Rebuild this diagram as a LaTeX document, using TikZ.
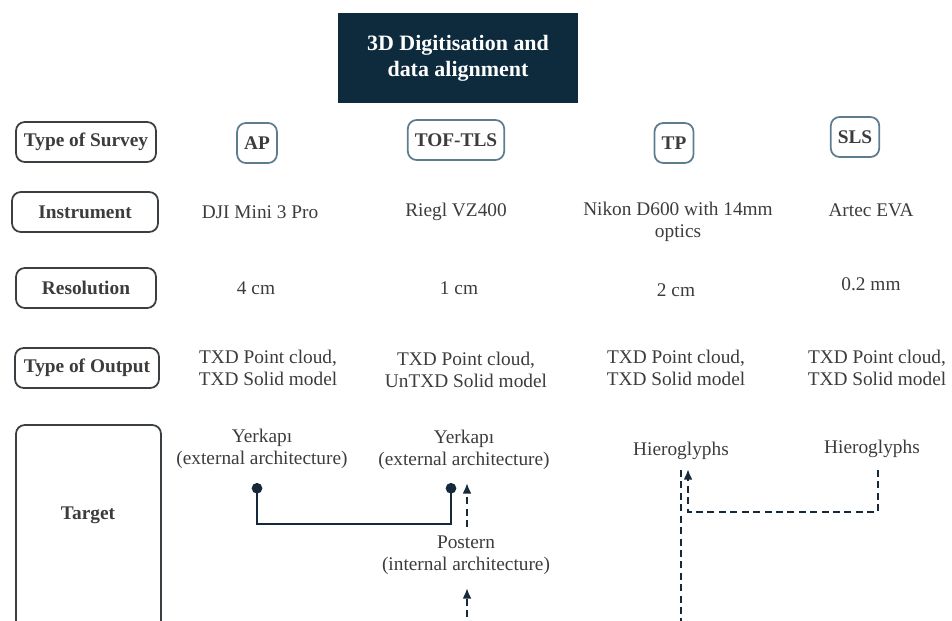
\documentclass[tikz,border=0pt]{standalone}
\usepackage{fontspec}
\setmainfont{Liberation Serif}
\usetikzlibrary{positioning,arrows.meta}

\definecolor{headnavy}{HTML}{0E2B3E}
\definecolor{boxgray}{HTML}{3A3F44}
\definecolor{surveyblue}{HTML}{5E7C90}
\definecolor{inkgray}{HTML}{3C3C3C}
\definecolor{linknavy}{HTML}{15293A}

\tikzset{
  rowlabel/.style={draw=boxgray, line width=1pt, rounded corners=5pt, font=\fontsize{11}{13}\selectfont\bfseries,
    text=inkgray, minimum width=2.8cm, minimum height=0.8cm},
  survey/.style={draw=surveyblue, line width=1pt, rounded corners=5pt, font=\fontsize{11}{13}\selectfont\bfseries,
    text=inkgray, minimum width=0.78cm, minimum height=0.8cm, inner sep=4pt},
  cell/.style={font=\fontsize{11}{12.5}\selectfont, text=inkgray, align=center, inner sep=1pt},
  link/.style={draw=linknavy, line width=1.3pt},
  flow/.style={draw=linknavy, line width=1.2pt, dash pattern=on 4pt off 2.5pt, -{Latex[length=6pt,width=5pt]}},
}

\begin{document}
\begin{tikzpicture}[x=0.02cm, y=-0.02cm]
  \useasboundingbox (0,0) rectangle (952,621);
  \clip (0,0) rectangle (952,621);

  % title
  \node[fill=headnavy, minimum width=4.8cm, minimum height=1.82cm, text=white, align=center,
        font=\fontsize{12.5}{15}\selectfont\bfseries] (title) at (458,58) {3D Digitisation and\\data alignment};

  % row labels
  \node[rowlabel] (survey) at (86,142) {Type of Survey};
  \node[rowlabel, minimum width=2.92cm] (instr) at (85,212) {Instrument};
  \node[rowlabel] (resol) at (86,288) {Resolution};
  \node[rowlabel, minimum width=2.88cm] (output) at (87,368) {Type of Output};
  \draw[draw=boxgray, line width=1pt, rounded corners=5pt] (16,425) rectangle (161,660);
  \node[font=\fontsize{11}{13}\selectfont\bfseries, text=inkgray] (target) at (88,515) {Target};

  % survey types
  \node[survey] (ap) at (257,143) {AP};
  \node[survey] (tls) at (456,140) {TOF-TLS};
  \node[survey] (tp) at (674,143) {TP};
  \node[survey] (sls) at (855,137) {SLS};

  % instruments
  \node[cell] (apInstr) at (260,212) {DJI Mini 3 Pro};
  \node[cell] (tlsInstr) at (456,212) {Riegl VZ400};
  \node[cell] (tpInstr) at (678,222) {Nikon D600 with 14mm\\optics};
  \node[cell] (slsInstr) at (871,210) {Artec EVA};

  % resolution
  \node[cell] (apRes) at (256,288) {4 cm};
  \node[cell] (tlsRes) at (459,288) {1 cm};
  \node[cell] (tpRes) at (676,290) {2 cm};
  \node[cell] (slsRes) at (871,284) {0.2 mm};

  % outputs
  \node[cell] (apOut) at (268,368) {TXD Point cloud,\\TXD Solid model};
  \node[cell] (tlsOut) at (466,370) {TXD Point cloud,\\UnTXD Solid model};
  \node[cell] (tpOut) at (676,368) {TXD Point cloud,\\TXD Solid model};
  \node[cell] (slsOut) at (877,368) {TXD Point cloud,\\TXD Solid model};

  % targets
  \node[cell] (apTgt) at (262,449) {Yerkapı\\(external architecture)};
  \node[cell] (tlsTgt) at (464,450) {Yerkapı\\(external architecture)};
  \node[cell] (postern) at (466,555) {Postern\\(internal architecture)};
  \node[cell] (tpTgt) at (681,451) {Hieroglyphs};
  \node[cell] (slsTgt) at (872,449) {Hieroglyphs};

  \coordinate (apDot) at (257,483);
  \coordinate (tlsDot) at (451,483);
  \coordinate (postTop) at (467,527);
  \coordinate (postIn) at (467,588);
  \coordinate (postOut) at (467,640);
  \coordinate (tpIn) at (688,469);
  \coordinate (tpDown) at (681,470);
  \coordinate (slsOff) at (878,470);

  % connectors
  \draw[link, {Circle[length=6pt]}-{Circle[length=6pt]}] (apDot) -- ++(0,41) -| (tlsDot);
  \draw[flow] (postTop) -- (467,483);
  \draw[flow] (postOut) -- (postIn);
  \draw[flow, -] (tpDown) -- ++(0,170);
  \draw[flow] (slsOff) -- ++(0,42) -| (tpIn);
\end{tikzpicture}
\end{document}
